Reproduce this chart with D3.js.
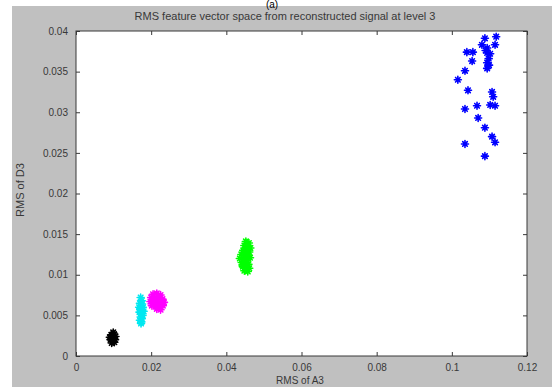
<!DOCTYPE html>
<html><head><meta charset="utf-8">
<script src="https://cdn.jsdelivr.net/npm/d3@7"></script>
<style>body{margin:0;background:#fff}svg{display:block}text{font-family:"Liberation Sans",Arial,sans-serif}</style>
</head><body><svg id="c" width="552" height="387"></svg>
<script>
const xTicks=[0,0.02,0.04,0.06,0.08,0.1,0.12];
const xTickLabels=["0","0.02","0.04","0.06","0.08","0.1","0.12"];
const yTicks=[0,0.005,0.01,0.015,0.02,0.025,0.03,0.035,0.04];
const yTickLabels=["0","0.005","0.01","0.015","0.02","0.025","0.03","0.035","0.04"];
const seriesNames=["black","cyan","magenta","green","blue"];
const seriesColors=["#000000","#00e8f0","#ff00ff","#00ff00","#0000ff"];
const blackPts=[[0.0092,0.0020],[0.0096,0.0024],[0.0100,0.0022],[0.0104,0.0020],[0.0094,0.0026],[0.0101,0.0027],[0.0098,0.0018],[0.0105,0.0024],[0.0090,0.0023],[0.0097,0.0022],[0.0102,0.0017],[0.0095,0.0016],[0.0099,0.0029],[0.0093,0.0021]];
const cyanPts=[[0.0172,0.0072],[0.0175,0.0068],[0.0170,0.0065],[0.0174,0.0062],[0.0178,0.0060],[0.0171,0.0058],[0.0176,0.0056],[0.0169,0.0054],[0.0173,0.0052],[0.0177,0.0050],[0.0172,0.0048],[0.0175,0.0046],[0.0170,0.0044],[0.0174,0.0042],[0.0176,0.0064],[0.0168,0.0060],[0.0180,0.0055],[0.0173,0.0040]];
const magentaPts=[[0.0205,0.0076],[0.0215,0.0077],[0.0225,0.0075],[0.0200,0.0072],[0.0210,0.0071],[0.0220,0.0072],[0.0230,0.0070],[0.0198,0.0067],[0.0207,0.0066],[0.0217,0.0067],[0.0227,0.0065],[0.0234,0.0066],[0.0202,0.0062],[0.0212,0.0062],[0.0222,0.0061],[0.0231,0.0062],[0.0215,0.0058],[0.0225,0.0057],[0.0208,0.0069],[0.0219,0.0064]];
const greenPts=[[0.0452,0.0141],[0.0460,0.0139],[0.0448,0.0136],[0.0456,0.0134],[0.0464,0.0133],[0.0445,0.0130],[0.0453,0.0129],[0.0461,0.0128],[0.0440,0.0125],[0.0449,0.0124],[0.0458,0.0123],[0.0436,0.0120],[0.0446,0.0119],[0.0455,0.0118],[0.0463,0.0121],[0.0441,0.0115],[0.0450,0.0114],[0.0459,0.0113],[0.0444,0.0110],[0.0453,0.0109],[0.0461,0.0108],[0.0448,0.0105],[0.0457,0.0104],[0.0452,0.0127],[0.0443,0.0112]];
const bluePts=[[0.1088,0.0391],[0.1118,0.0393],[0.1080,0.0383],[0.1115,0.0383],[0.1094,0.0379],[0.1040,0.0374],[0.1056,0.0374],[0.1094,0.0373],[0.1102,0.0372],[0.1090,0.0376],[0.1054,0.0363],[0.1094,0.0361],[0.1099,0.0358],[0.1098,0.0366],[0.1035,0.0351],[0.1094,0.0354],[0.1016,0.0340],[0.1043,0.0327],[0.1107,0.0325],[0.1110,0.0319],[0.1035,0.0304],[0.1067,0.0308],[0.1102,0.0309],[0.1115,0.0308],[0.1070,0.0293],[0.1088,0.0281],[0.1107,0.0270],[0.1115,0.0263],[0.1035,0.0261],[0.1088,0.0246]];
const series=[blackPts,cyanPts,magentaPts,greenPts,bluePts];

const svg=d3.select("#c");
const L=76,R=527,T=31,B=356;
svg.append("rect").attr("x",12).attr("y",6).attr("width",540).attr("height",381).attr("fill","#c0c0c0");
const x=d3.scaleLinear().domain([0,0.12]).range([L,R]);
const y=d3.scaleLinear().domain([0,0.04]).range([B,T]);
svg.append("rect").attr("x",L).attr("y",T).attr("width",R-L).attr("height",B-T).attr("fill","#fff");

const tc="#383838";
const ax=svg.append("g");
ax.append("g").attr("transform",`translate(0,${B})`).call(d3.axisBottom(x).tickValues(xTicks).tickSize(-4).tickPadding(8).tickFormat((d,i)=>xTickLabels[i]));
ax.append("g").attr("transform",`translate(0,${T})`).call(d3.axisTop(x).tickValues(xTicks).tickSize(-4).tickFormat(""));
ax.append("g").attr("transform",`translate(${L},0)`).call(d3.axisLeft(y).tickValues(yTicks).tickSize(-4).tickPadding(8).tickFormat((d,i)=>yTickLabels[i]));
ax.append("g").attr("transform",`translate(${R},0)`).call(d3.axisRight(y).tickValues(yTicks).tickSize(-4).tickFormat(""));
ax.selectAll(".domain").remove();
ax.selectAll("line").attr("stroke",tc);
ax.selectAll("text").attr("fill",tc).style("font-size","10px").style("font-family","'Liberation Sans',Arial,sans-serif");
svg.append("rect").attr("x",L).attr("y",T).attr("width",R-L).attr("height",B-T).attr("fill","none").attr("stroke",tc).attr("stroke-width",1);

const star="M-3.5,0L3.5,0M0,-3.5L0,3.5M-2.3,-2.3L2.3,2.3M-2.3,2.3L2.3,-2.3";
series.forEach((pts,i)=>{
  svg.append("g").selectAll("path").data(pts).join("path")
    .attr("transform",d=>`translate(${x(d[0])},${y(d[1])})`)
    .attr("d",star).attr("fill","none").attr("stroke",seriesColors[i])
    .attr("stroke-width",1.6).attr("stroke-linecap","round");
});

svg.append("text").attr("x",272).attr("y",8).attr("text-anchor","middle").attr("fill","#000").style("font-size","10px").text("(a)");
svg.append("text").attr("x",285).attr("y",20).attr("text-anchor","middle").attr("fill",tc).style("font-size","11px").text("RMS feature vector space from reconstructed signal at level 3");
svg.append("text").attr("x",300).attr("y",384).attr("text-anchor","middle").attr("fill",tc).style("font-size","10px").text("RMS of A3");
svg.append("text").attr("transform","translate(24,190) rotate(-90)").attr("text-anchor","middle").attr("fill",tc).style("font-size","11px").text("RMS of D3");
</script></body></html>
